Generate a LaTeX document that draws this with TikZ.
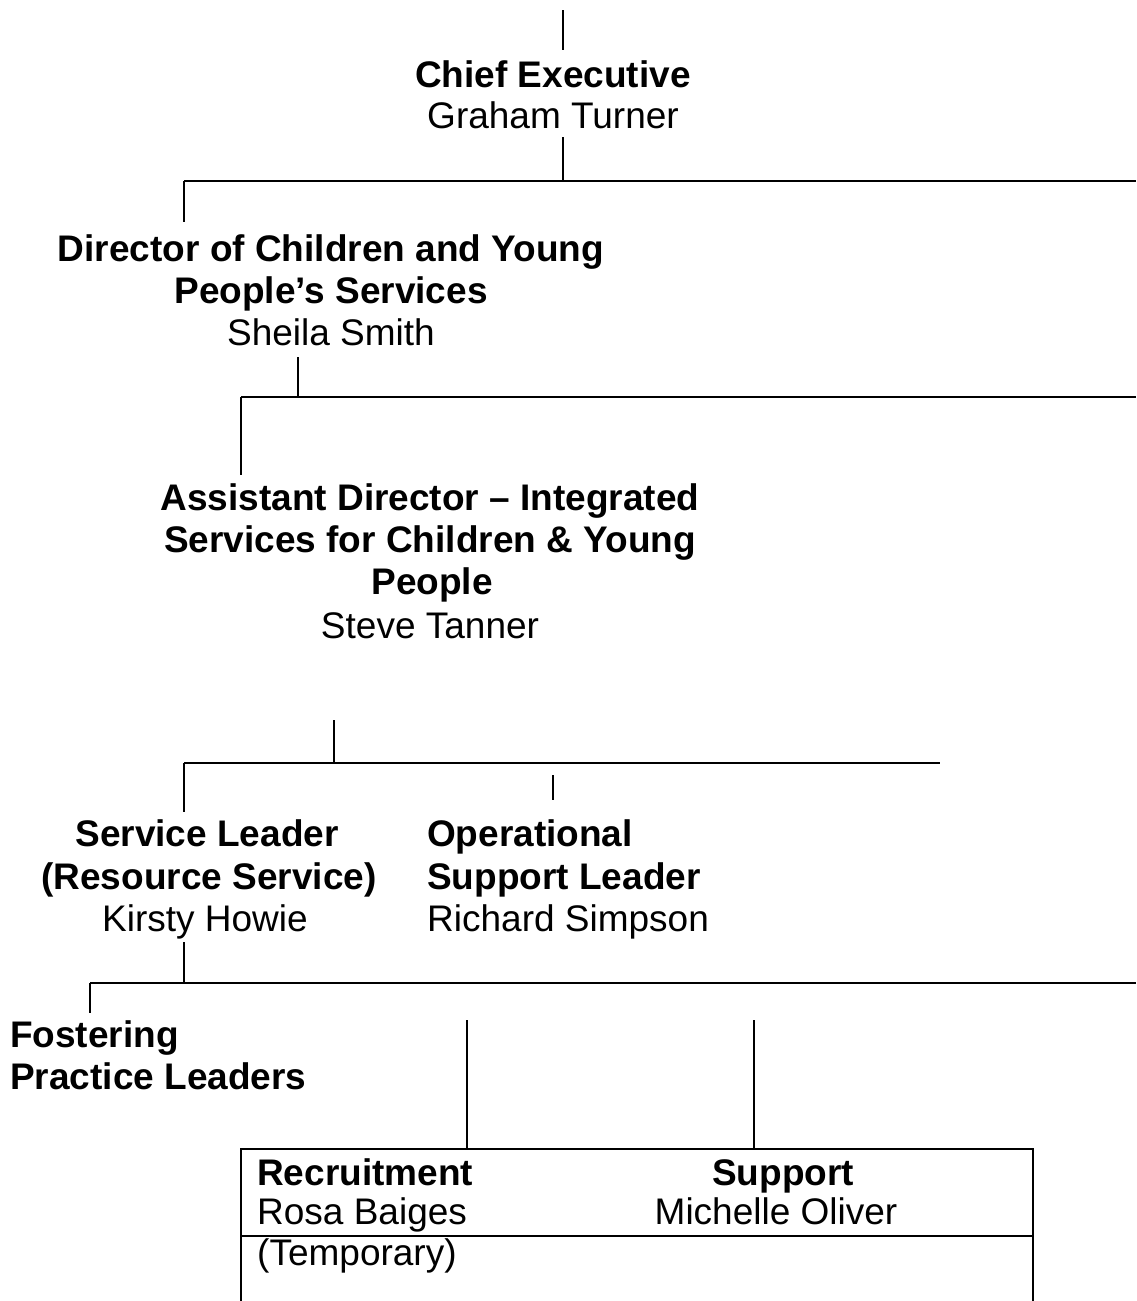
\documentclass[tikz,border=0pt]{standalone}
\usepackage{fontspec}
\setmainfont{Liberation Sans}
\begin{document}
\begin{tikzpicture}[x=1pt,y=-1pt,
  title/.style={font=\fontsize{37}{42}\selectfont\bfseries, inner sep=0pt, anchor=base},
  person/.style={font=\fontsize{37}{42}\selectfont, inner sep=0pt, anchor=base},
  titleL/.style={title, anchor=base west},
  personL/.style={person, anchor=base west},
  vline/.style={line width=1.2pt},
  hline/.style={line width=2.2pt},
  boxline/.style={line width=1.8pt},
]
\useasboundingbox (0,0) rectangle (1136,1301);

% ---- Chief Executive ----
\node[title]  (ceT) at (553,87)  {Chief Executive};
\node[person] (ceN) at (553,128) {Graham Turner};

% ---- Director ----
\node[title]  (dirT1) at (331,261) {Director of Children and Young};
\node[title]  (dirT2) at (331,303) {People’s Services};
\node[person] (dirN)  at (331,345) {Sheila Smith};

% ---- Assistant Director ----
\node[title]  (adT1) at (430,510) {Assistant Director – Integrated};
\node[title]  (adT2) at (430,552) {Services for Children \& Young};
\node[title]  (adT3) at (432,594) {People};
\node[person] (adN)  at (430,638) {Steve Tanner};

% ---- Service Leader ----
\node[title]  (slT1) at (207,846) {Service Leader};
\node[title]  (slT2) at (209,889) {(Resource Service)};
\node[person] (slN)  at (205,931) {Kirsty Howie};

% ---- Operational Support Leader ----
\node[titleL]  (osT1) at (427,846) {Operational};
\node[titleL]  (osT2) at (427,889) {Support Leader};
\node[personL] (osN)  at (427,931) {Richard Simpson};

% ---- Fostering Practice Leaders ----
\node[titleL] (fpT1) at (10,1047) {Fostering};
\node[titleL] (fpT2) at (10,1089) {Practice Leaders};

% ---- Team table ----
\coordinate (tblTL) at (241,1149);
\coordinate (tblTR) at (1033,1149);
\coordinate (tblBL) at (241,1310);
\coordinate (tblBR) at (1033,1310);
\coordinate (tblML) at (241,1236);
\coordinate (tblMR) at (1033,1236);
\draw[boxline] (tblBL) -- (tblTL) -- (tblTR) -- (tblBR);
\draw[boxline] (tblML) -- (tblMR);

\node[titleL]  (recT) at (257,1185) {Recruitment};
\node[personL] (recN) at (257,1224) {Rosa Baiges};
\node[title]   (supT) at (783,1185) {Support};
\node[person]  (supN) at (776,1224) {Michelle Oliver};
\node[personL] (tmp)  at (257,1265) {(Temporary)};

% ---- connector junctions ----
\coordinate (c0a) at (563,10);   \coordinate (c0b) at (563,50);
\coordinate (c1a) at (563,137);  \coordinate (c1b) at (563,181);
\coordinate (b1L) at (184,181);  \coordinate (b1R) at (1136,181);
\coordinate (c2b) at (184,222);
\coordinate (c3a) at (298,357);  \coordinate (c3b) at (298,397);
\coordinate (b2L) at (241,397);  \coordinate (b2R) at (1136,397);
\coordinate (c4b) at (241,475);
\coordinate (c5a) at (334,720);  \coordinate (c5b) at (334,763);
\coordinate (b3L) at (184,763);  \coordinate (b3R) at (940,763);
\coordinate (c6b) at (184,812);
\coordinate (c7a) at (553,775);  \coordinate (c7b) at (553,800);
\coordinate (c8a) at (184,942);  \coordinate (c8b) at (184,983);
\coordinate (b4L) at (90,983);   \coordinate (b4R) at (1136,983);
\coordinate (c9b) at (90,1013);
\coordinate (c10a) at (467,1020); \coordinate (c10b) at (467,1148);
\coordinate (c11a) at (754,1020); \coordinate (c11b) at (754,1148);

% ---- vertical connectors ----
\draw[vline] (c0a) -- (c0b);
\draw[vline] (c1a) -- (c1b);
\draw[vline] (b1L) -- (c2b);
\draw[vline] (c3a) -- (c3b);
\draw[vline] (b2L) -- (c4b);
\draw[vline] (c5a) -- (c5b);
\draw[vline] (b3L) -- (c6b);
\draw[vline] (c7a) -- (c7b);
\draw[vline] (c8a) -- (c8b);
\draw[vline] (b4L) -- (c9b);
\draw[vline] (c10a) -- (c10b);
\draw[vline] (c11a) -- (c11b);

% ---- horizontal bus lines ----
\draw[hline] (b1L) -- (b1R);
\draw[hline] (b2L) -- (b2R);
\draw[hline] (b3L) -- (b3R);
\draw[hline] (b4L) -- (b4R);
\end{tikzpicture}
\end{document}
